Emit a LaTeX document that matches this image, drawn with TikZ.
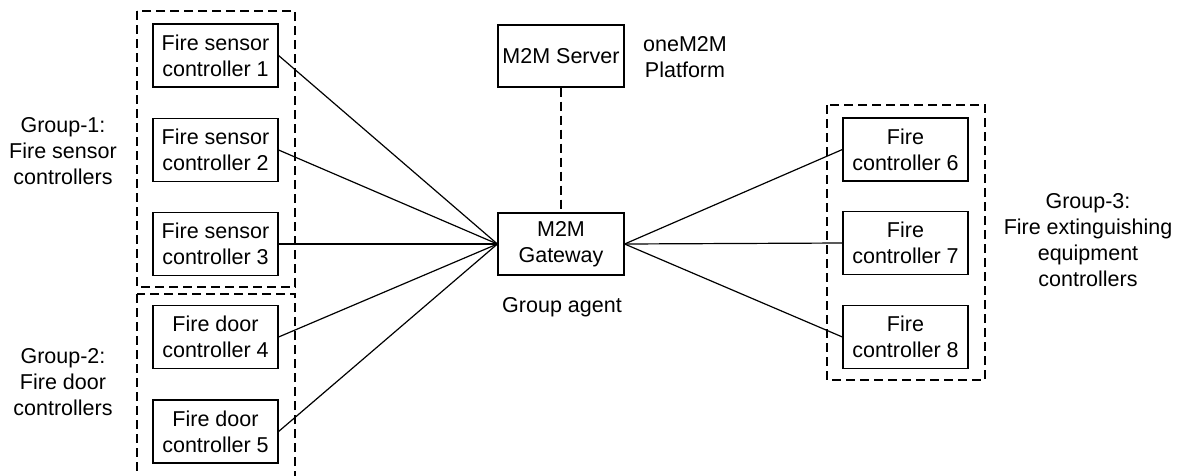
\documentclass[tikz,border=0pt]{standalone}
\usepackage{fontspec}
\setmainfont{Liberation Sans}
\begin{document}
\begin{tikzpicture}[x=1pt,y=-1pt,
  box/.style={draw,line width=1.2pt,minimum width=125pt,minimum height=63pt,inner sep=0pt,align=center,font=\fontsize{21.5}{26}\selectfont},
  lbl/.style={align=center,font=\fontsize{21.5}{26}\selectfont,inner sep=0pt},
  grp/.style={draw,line width=1.2pt,dash pattern=on 9pt off 5pt},
  link/.style={line width=1.2pt}]
\clip (0,0) rectangle (1180,475);
\useasboundingbox (0,0) rectangle (1180,475);
\draw[grp] (137,11) rectangle (295,287);
\draw[grp] (137,294) rectangle (295,490);
\draw[grp] (827,105) rectangle (985,380);
\node[box] (s1) at (215.5,55.5) {Fire sensor\\controller 1};
\node[box] (s2) at (215.5,150) {Fire sensor\\controller 2};
\node[box] (s3) at (215.5,244) {Fire sensor\\controller 3};
\node[box] (d4) at (215.5,337) {Fire door\\controller 4};
\node[box] (d5) at (215.5,431.5) {Fire door\\controller 5};
\node[box,minimum width=126pt,minimum height=62pt] (srv) at (561,56) {M2M Server};
\node[box,minimum width=126pt,minimum height=62pt] (gw) at (561,244) {M2M\\Gateway};
\node[box] (f6) at (905.5,149.5) {Fire\\controller 6};
\node[box] (f7) at (905.5,243) {Fire\\controller 7};
\node[box] (f8) at (905.5,337) {Fire\\controller 8};
\node[lbl] (g1) at (63,151) {Group-1:\\Fire sensor\\controllers};
\node[lbl] (g2) at (63,382) {Group-2:\\Fire door\\controllers};
\node[lbl] (g3) at (1088,240) {Group-3:\\Fire extinguishing\\equipment\\controllers};
\node[lbl] (plat) at (685,57) {oneM2M\\Platform};
\node[lbl] (ga) at (562,307) {Group agent};
\draw[grp] (srv.south) -- (gw.north);
\foreach \n in {s1,s2,s3,d4,d5} \draw[link] (\n.east) -- (gw.west);
\foreach \n in {f6,f7,f8} \draw[link] (gw.east) -- (\n.west);
\end{tikzpicture}
\end{document}
